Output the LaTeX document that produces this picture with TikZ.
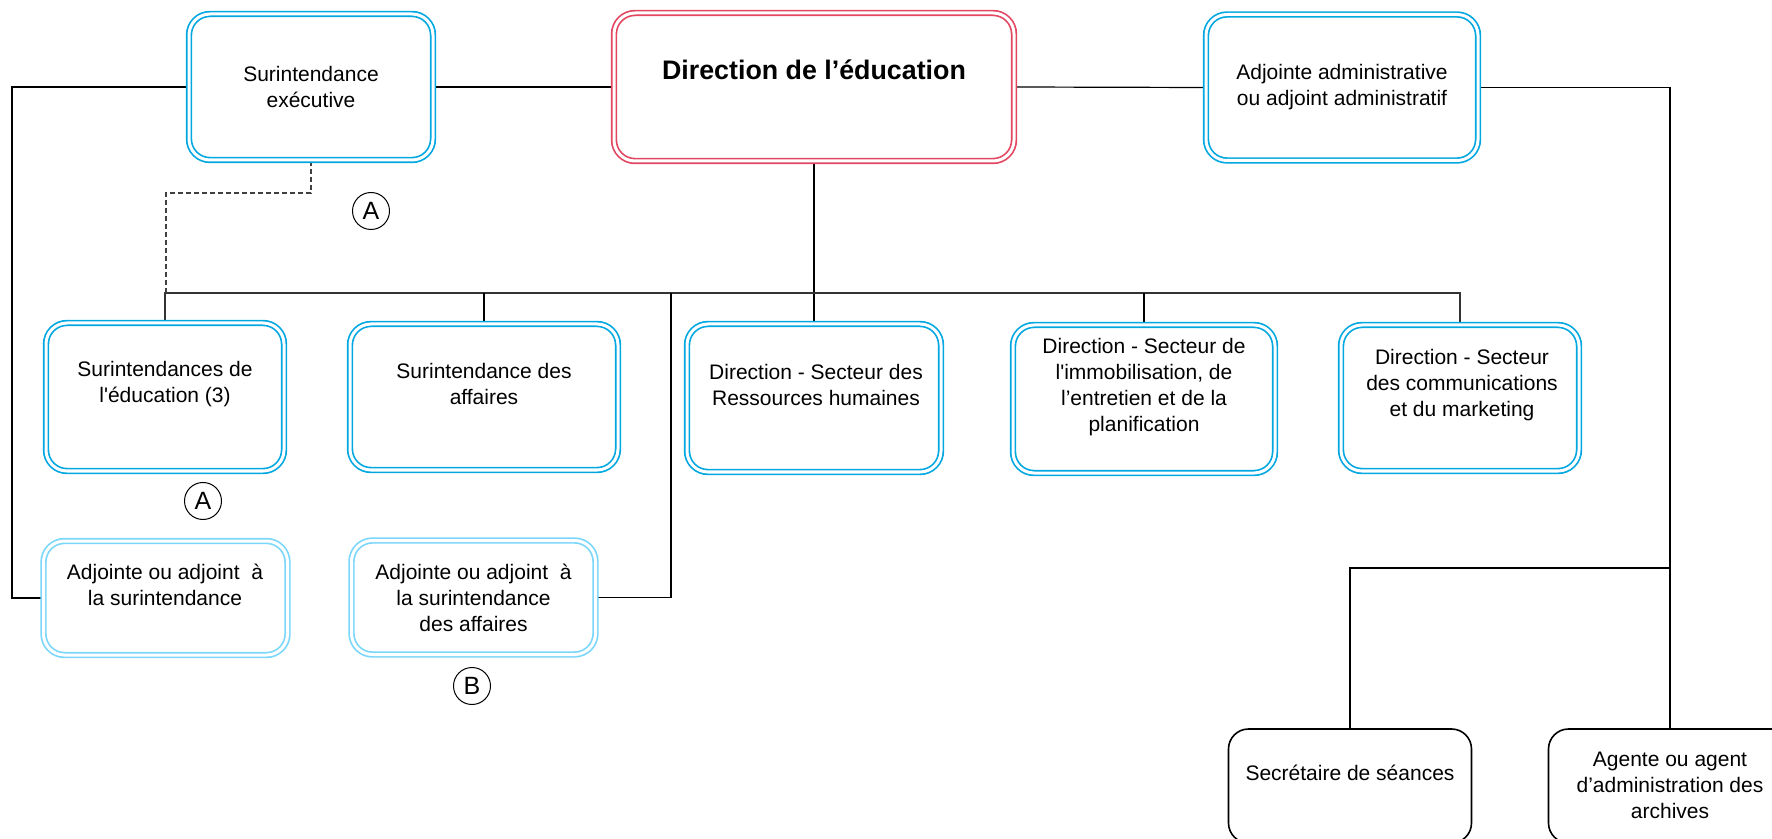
\documentclass[tikz,border=0pt]{standalone}
\usepackage{fontspec}
\setmainfont{Liberation Sans}[Ligatures=TeXOff]
\usetikzlibrary{backgrounds}
\definecolor{boxblue}{RGB}{0,167,225}
\definecolor{paleblue}{RGB}{122,214,250}
\definecolor{boxred}{RGB}{226,70,96}
\tikzset{
  bluebox/.style={draw=boxblue,double=white,double distance=1.5pt,line width=0.85pt,rounded corners=10.5pt,inner sep=0pt},
  palebox/.style={bluebox,draw=paleblue},
  redbox/.style={bluebox,draw=boxred},
  plainbox/.style={draw=black,line width=0.8pt,rounded corners=10pt,inner sep=0pt},
  txt/.style={align=center,font=\fontsize{10.5}{13}\selectfont},
  lettermark/.style={draw,circle,line width=0.5pt,minimum size=18.5pt,inner sep=0pt,font=\fontsize{12.5}{13}\selectfont},
  link/.style={line width=0.6pt},
  busline/.style={line width=0.9pt,black!80},
}

\begin{document}
\begin{tikzpicture}[x=0.5pt,y=-0.5pt]
\useasboundingbox (0,0) rectangle (1772,839);
\clip (0,0) rectangle (1772,839);
% top row
\node[bluebox,minimum width=122pt,minimum height=73pt,txt] (supexec) at (311,87) {Surintendance\\exécutive};
\node[redbox,minimum width=200pt,minimum height=74pt] (dir) at (814,87) {};
\node[font=\fontsize{13.4}{16}\selectfont\bfseries] (dir-t) at (814,70) {Direction de l’éducation};
\node[bluebox,minimum width=136pt,minimum height=73pt,txt] (adjadm) at (1342,87.5) {Adjointe administrative\\ou adjoint administratif};
\node[lettermark] (markA1) at (371,211) {A};
% second row
\node[bluebox,minimum width=119pt,minimum height=74pt] (suped) at (165,397) {};
\node[txt] (suped-t) at (165,384) {Surintendances de\\l'éducation (3)};
\node[bluebox,minimum width=134pt,minimum height=73pt] (supaff) at (484,397) {};
\node[txt] (supaff-t) at (484,383.5) {Surintendance des\\affaires};
\node[bluebox,minimum width=127pt,minimum height=74pt] (rh) at (814,398) {};
\node[txt] (rh-t) at (816,385) {Direction - Secteur des\\Ressources humaines};
\node[bluebox,minimum width=131pt,minimum height=74pt] (immob) at (1144,399) {};
\node[txt] (immob-t) at (1144,387) {Direction - Secteur de\\l'immobilisation, de\\l’entretien et de la\\planification};
\node[bluebox,minimum width=119pt,minimum height=73pt] (comm) at (1460,398) {};
\node[txt] (comm-t) at (1462,385) {Direction - Secteur\\des communications\\et du marketing};
\node[lettermark] (markA2) at (203,501) {A};
% adjoints
\node[palebox,minimum width=122pt,minimum height=57pt] (adjsup) at (165.5,598) {};
\node[txt] (adjsup-t) at (165,585) {Adjointe ou adjoint~ à\\la surintendance};
\node[palebox,minimum width=122pt,minimum height=57pt,txt] (adjaff) at (473.5,597.5) {Adjointe ou adjoint~ à\\la surintendance\\des affaires};
\node[lettermark] (markB) at (472,686) {B};
% bottom row
\node[plainbox,minimum width=121.5pt,minimum height=57pt] (secr) at (1350,786) {};
\node[txt] (secr-t) at (1350,773) {Secrétaire de séances};
\node[plainbox,minimum width=121.5pt,minimum height=57pt] (agent) at (1670,786) {};
\node[txt] (agent-t) at (1670,785.5) {Agente ou agent\\d’administration des\\archives};
\coordinate (lftcorner) at (12,87);
\coordinate (bus) at (814,293);
\coordinate (affjoin) at (671,293);
\coordinate (dashbend) at (166,193);
\coordinate (branch) at (1670,568);
\begin{pgfonlayer}{background}
\draw[link] (supexec.west) -- (lftcorner) |- (adjsup.west);
\draw[link] (supexec.east) -- (dir.west);
\draw[link] (dir.east) -- (adjadm.west);
\draw[link] (adjadm.east) -| (agent.north);
\draw[link] (branch) -| (secr.north);
\draw[link] (dir.south) -- (rh.north);
\draw[busline] (suped.north) |- (bus) -| (comm.north);
\foreach \n in {supaff,immob} {
  \draw[link] (\n.north) -- (\n.north |- bus);
}
\draw[link] (adjaff.east) -| (affjoin);
\draw[link,black!75,dash pattern=on 2.5pt off 1.5pt] (supexec.south) |- (dashbend) -- (dashbend |- bus);
\end{pgfonlayer}
\end{tikzpicture}
\end{document}
